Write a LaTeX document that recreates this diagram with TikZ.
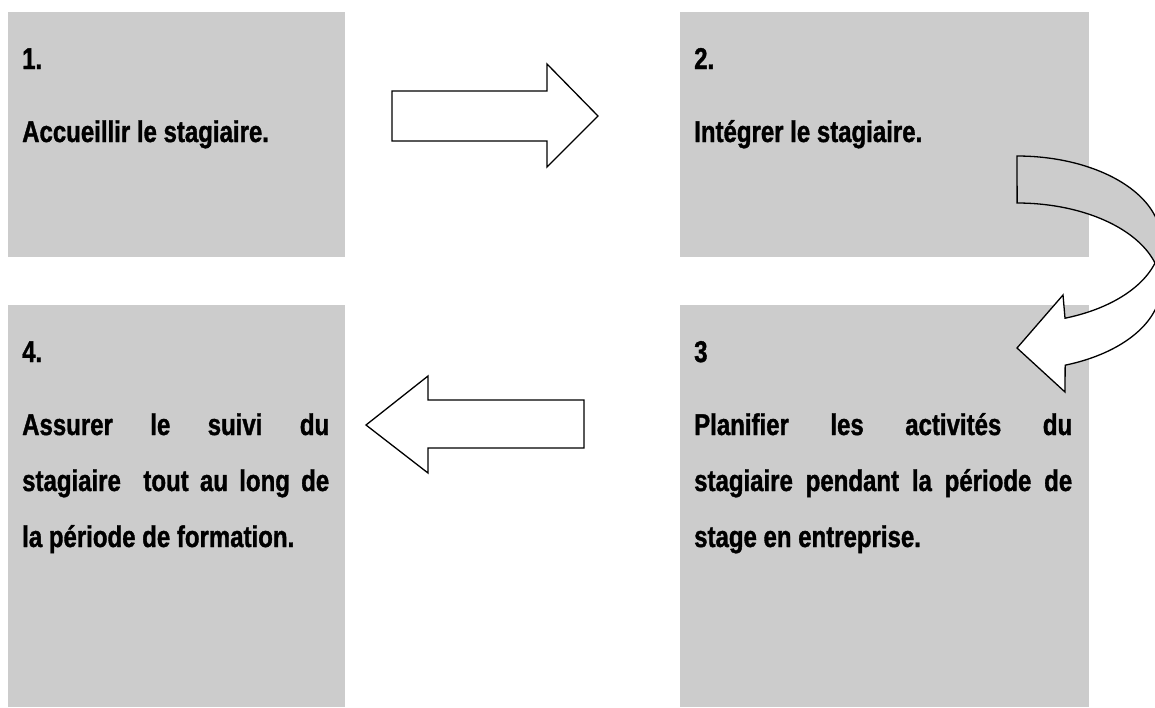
\documentclass[tikz,border=0pt]{standalone}
\usepackage{fontspec}
\setmainfont{Liberation Sans}[FakeStretch=0.8, BoldFeatures={FakeBold=1.2}]
\definecolor{boxgray}{HTML}{CCCCCC}
\begin{document}
\begin{tikzpicture}[x=1pt,y=-1pt,
  box/.style={fill=boxgray, draw=none, inner sep=0pt, anchor=north west},
  txt/.style={anchor=base west, inner sep=0pt, font=\fontsize{30}{56}\selectfont\bfseries},
  blockarrow/.style={fill=white, draw=black, line width=1.3pt, line join=miter},
  backband/.style={fill=boxgray, draw=black, line width=1.3pt, line join=miter}
]
\useasboundingbox (0,0) rectangle (1155,707);
\clip (0,0) rectangle (1155,707);

% boxes
\node[box, minimum width=337pt, minimum height=245pt] (b1) at (8,12) {};
\node[box, minimum width=409pt, minimum height=245pt] (b2) at (680,12) {};
\node[box, minimum width=409pt, minimum height=402pt] (b3) at (680,305) {};
\node[box, minimum width=337pt, minimum height=402pt] (b4) at (8,305) {};

% straight arrows
\draw[blockarrow] (392,91) -- (547,91) -- (547,64) -- (598,116) -- (547,167) -- (547,141) -- (392,141) -- cycle;
\draw[blockarrow] (584,400) -- (428,400) -- (428,376) -- (366,425) -- (428,473) -- (428,448) -- (584,448) -- cycle;

% curved arrow: back band
\path[backband] plot[domain=0:1, samples=60, variable=\t]
   ({1017+143.8*cos(-90+106.35*\t)},{239.5+83.5*sin(-90+106.35*\t)})
 -- plot[domain=0:1, samples=60, variable=\t]
   ({1017+143.8*cos(-16.35-73.65*\t)},{286.5+83.5*sin(-16.35-73.65*\t)})
 -- cycle;
% curved arrow: front with head
\path[blockarrow] plot[domain=0:1, samples=60, variable=\t]
   ({1017+143.8*cos(-16.35+86.85*\t)},{286.5+83.5*sin(-16.35+86.85*\t)})
 -- (1065,392) -- (1017,348) -- (1063,295)
 -- plot[domain=0:1, samples=60, variable=\t]
   ({1017+143.8*cos(70.5-54.15*\t)},{239.5+83.5*sin(70.5-54.15*\t)})
 -- cycle;

% texts
\node[txt] (n1) at (22,69) {1.};
\node[txt] (l1) at (22,142) {Accueillir le stagiaire.};
\node[txt] (n2) at (694,69) {2.};
\node[txt] (l2) at (694,142) {Intégrer le stagiaire.};
\node[txt] (n3) at (694,362) {3};
\node[txt] (l3a) at (694,435) {\makebox[378pt][s]{Planifier les activités du}};
\node[txt] (l3b) at (694,491) {\makebox[378pt][s]{stagiaire pendant la période de}};
\node[txt] (l3c) at (694,547) {stage en entreprise.};
\node[txt] (n4) at (22,362) {4.};
\node[txt] (l4a) at (22,435) {\makebox[307pt][s]{Assurer le suivi du}};
\node[txt] (l4b) at (22,491) {\makebox[307pt][s]{stagiaire\ \ tout au long de}};
\node[txt] (l4c) at (22,547) {la période de formation.};
\end{tikzpicture}
\end{document}
